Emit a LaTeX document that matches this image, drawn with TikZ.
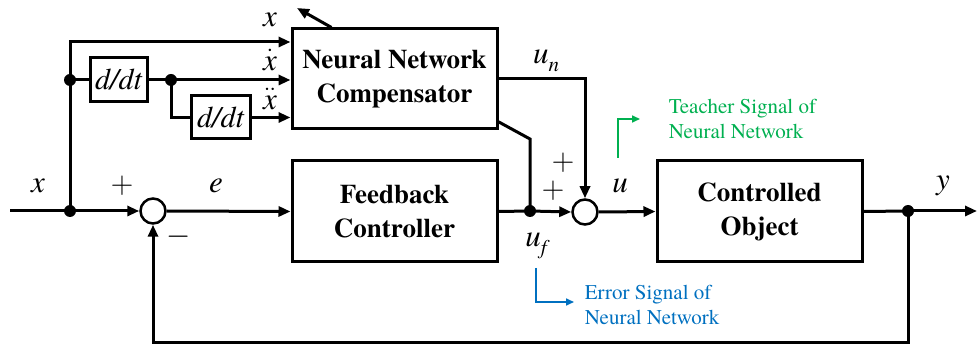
\RequirePackage{fix-cm}
\documentclass[tikz,border=0pt]{standalone}
\usepackage{fontspec}
\usepackage{graphicx}
\setmainfont{texgyretermes}[Extension=.otf,UprightFont=*-regular,BoldFont=*-bold,ItalicFont=*-italic,BoldItalicFont=*-bolditalic]
\usetikzlibrary{arrows.meta,calc}
\definecolor{tgreen}{RGB}{0,176,80}
\definecolor{eblue}{RGB}{0,112,192}
\newcommand{\vx}{\textit{x}}
\newcommand{\subi}[1]{\raisebox{-0.25em}{\fontsize{21}{21}\selectfont\itshape #1}}
\newcommand{\bigsign}[1]{\scalebox{1.3}{$#1$}}
\begin{document}
\begin{tikzpicture}[x=1pt,y=-1pt,line width=3pt,
 blk/.style={draw,line width=3pt,inner sep=0pt,font=\fontsize{27}{34}\selectfont\bfseries,align=center},
 ddt/.style={draw,line width=3pt,inner sep=0pt,font=\fontsize{30}{30}\selectfont\itshape},
 arr/.style={-{Triangle[length=12pt,width=10pt]}},
 thin/.style={line width=1.6pt,-{Triangle[length=8pt,width=7pt]}},
 dot/.style={circle,fill,inner sep=0pt,minimum size=12pt},
 sumc/.style={circle,draw,line width=2.5pt,minimum size=25pt,inner sep=0pt},
 lbl/.style={font=\fontsize{31}{31}\selectfont\itshape,inner sep=1pt},
 sgn/.style={font=\fontsize{24}{24}\selectfont,inner sep=1pt},
 note/.style={font=\fontsize{21}{25}\selectfont,align=left,anchor=west}]
\useasboundingbox (0,0) rectangle (977,347);
% blocks
\node[blk,minimum width=205pt,minimum height=100pt] (NN) at (394.5,79) {Neural Network\\Compensator};
\node[blk,minimum width=205pt,minimum height=101pt] (FB) at (394.5,211.5) {Feedback\\Controller};
\node[blk,minimum width=205pt,minimum height=101pt] (CO) at (759.5,211.5) {Controlled\\Object};
\node[ddt,minimum width=57pt,minimum height=44pt] (D1) at (118.5,80) {d/dt};
\node[ddt,minimum width=59pt,minimum height=43pt] (D2) at (220.5,117.5) {d/dt};
\node[sumc] (S1) at (153,211) {};
\node[sumc] (S2) at (585,212) {};
% junctions
\node[dot] (J1) at (70,211) {};
\node[dot] (J2) at (70,80) {};
\node[dot] (J3) at (171,80) {};
\node[dot] (J4) at (530,211) {};
\node[dot] (J5) at (908,211) {};
\coordinate (in) at (10,211);
\coordinate (out) at (977,211);
\coordinate (top) at (70,42);
\coordinate (la) at (297,8);
\coordinate (nb) at (497,121);
\coordinate (bend) at (530,139);
\coordinate (fb) at (908,342);
% connectors
\draw (in) -- (J1.center);
\draw[arr] (J1.center) -- (S1.west);
\draw[arr] (J1.center) -- (top) -- (top -| NN.west);
\draw (J2.center) -- (D1.west);
\draw (D1.east) -- (J3.center);
\draw[arr] (J3.center) -- (J3 -| NN.west);
\draw (J3.center) |- (D2.west);
\draw[arr] (D2.east) -- (D2.east -| NN.west);
\draw[arr] ($(NN.north west)+(41,0)$) -- (la);
\draw[arr] (NN.east) -| (S2.north);
\draw (nb) -- (bend) -- (J4.center);
\draw[arr] (S1.east) -- (FB.west);
\draw (FB.east) -- (J4.center);
\draw[arr] (J4.center) -- (S2.west);
\draw[arr] (S2.east) -- (CO.west);
\draw (CO.east) -- (J5.center);
\draw[arr] (J5.center) -- (out);
\draw[arr] (J5.center) -- (fb) -| (S1.south);
% labels
\node[lbl] (lx0) at (38,186) {x};
\node[lbl] (lx) at (270,20) {x};
\node[lbl] (lxd) at (270,60) {$\dot{\vx}$};
\node[lbl] (lxdd) at (270,99) {$\ddot{\vx}$};
\node[sgn] (lp1) at (122,186) {\bigsign{+}};
\node[sgn] (lm1) at (179,237) {\bigsign{-}};
\node[lbl] (le) at (216,186) {e};
\node[lbl] (lun) at (546,61) {u\subi{n}};
\node[sgn] (lp2) at (563,163) {\bigsign{+}};
\node[sgn] (lp3) at (553,191) {\bigsign{+}};
\node[lbl] (lu) at (620,186) {u};
\node[lbl] (luf) at (536,246) {u\subi{f}};
\node[lbl] (ly) at (943,186) {y};
% notes
\coordinate (gs) at (618,158);
\coordinate (ge) at (640,119);
\draw[thin,tgreen] (gs) |- (ge);
\node[note,text=tgreen] (tn) at (664,119) {Teacher Signal of\\Neural Network};
\coordinate (bs) at (536,268);
\coordinate (be) at (574,302);
\draw[thin,eblue] (bs) |- (be);
\node[note,text=eblue] (en) at (580,305) {Error Signal of\\Neural Network};
\end{tikzpicture}
\end{document}
